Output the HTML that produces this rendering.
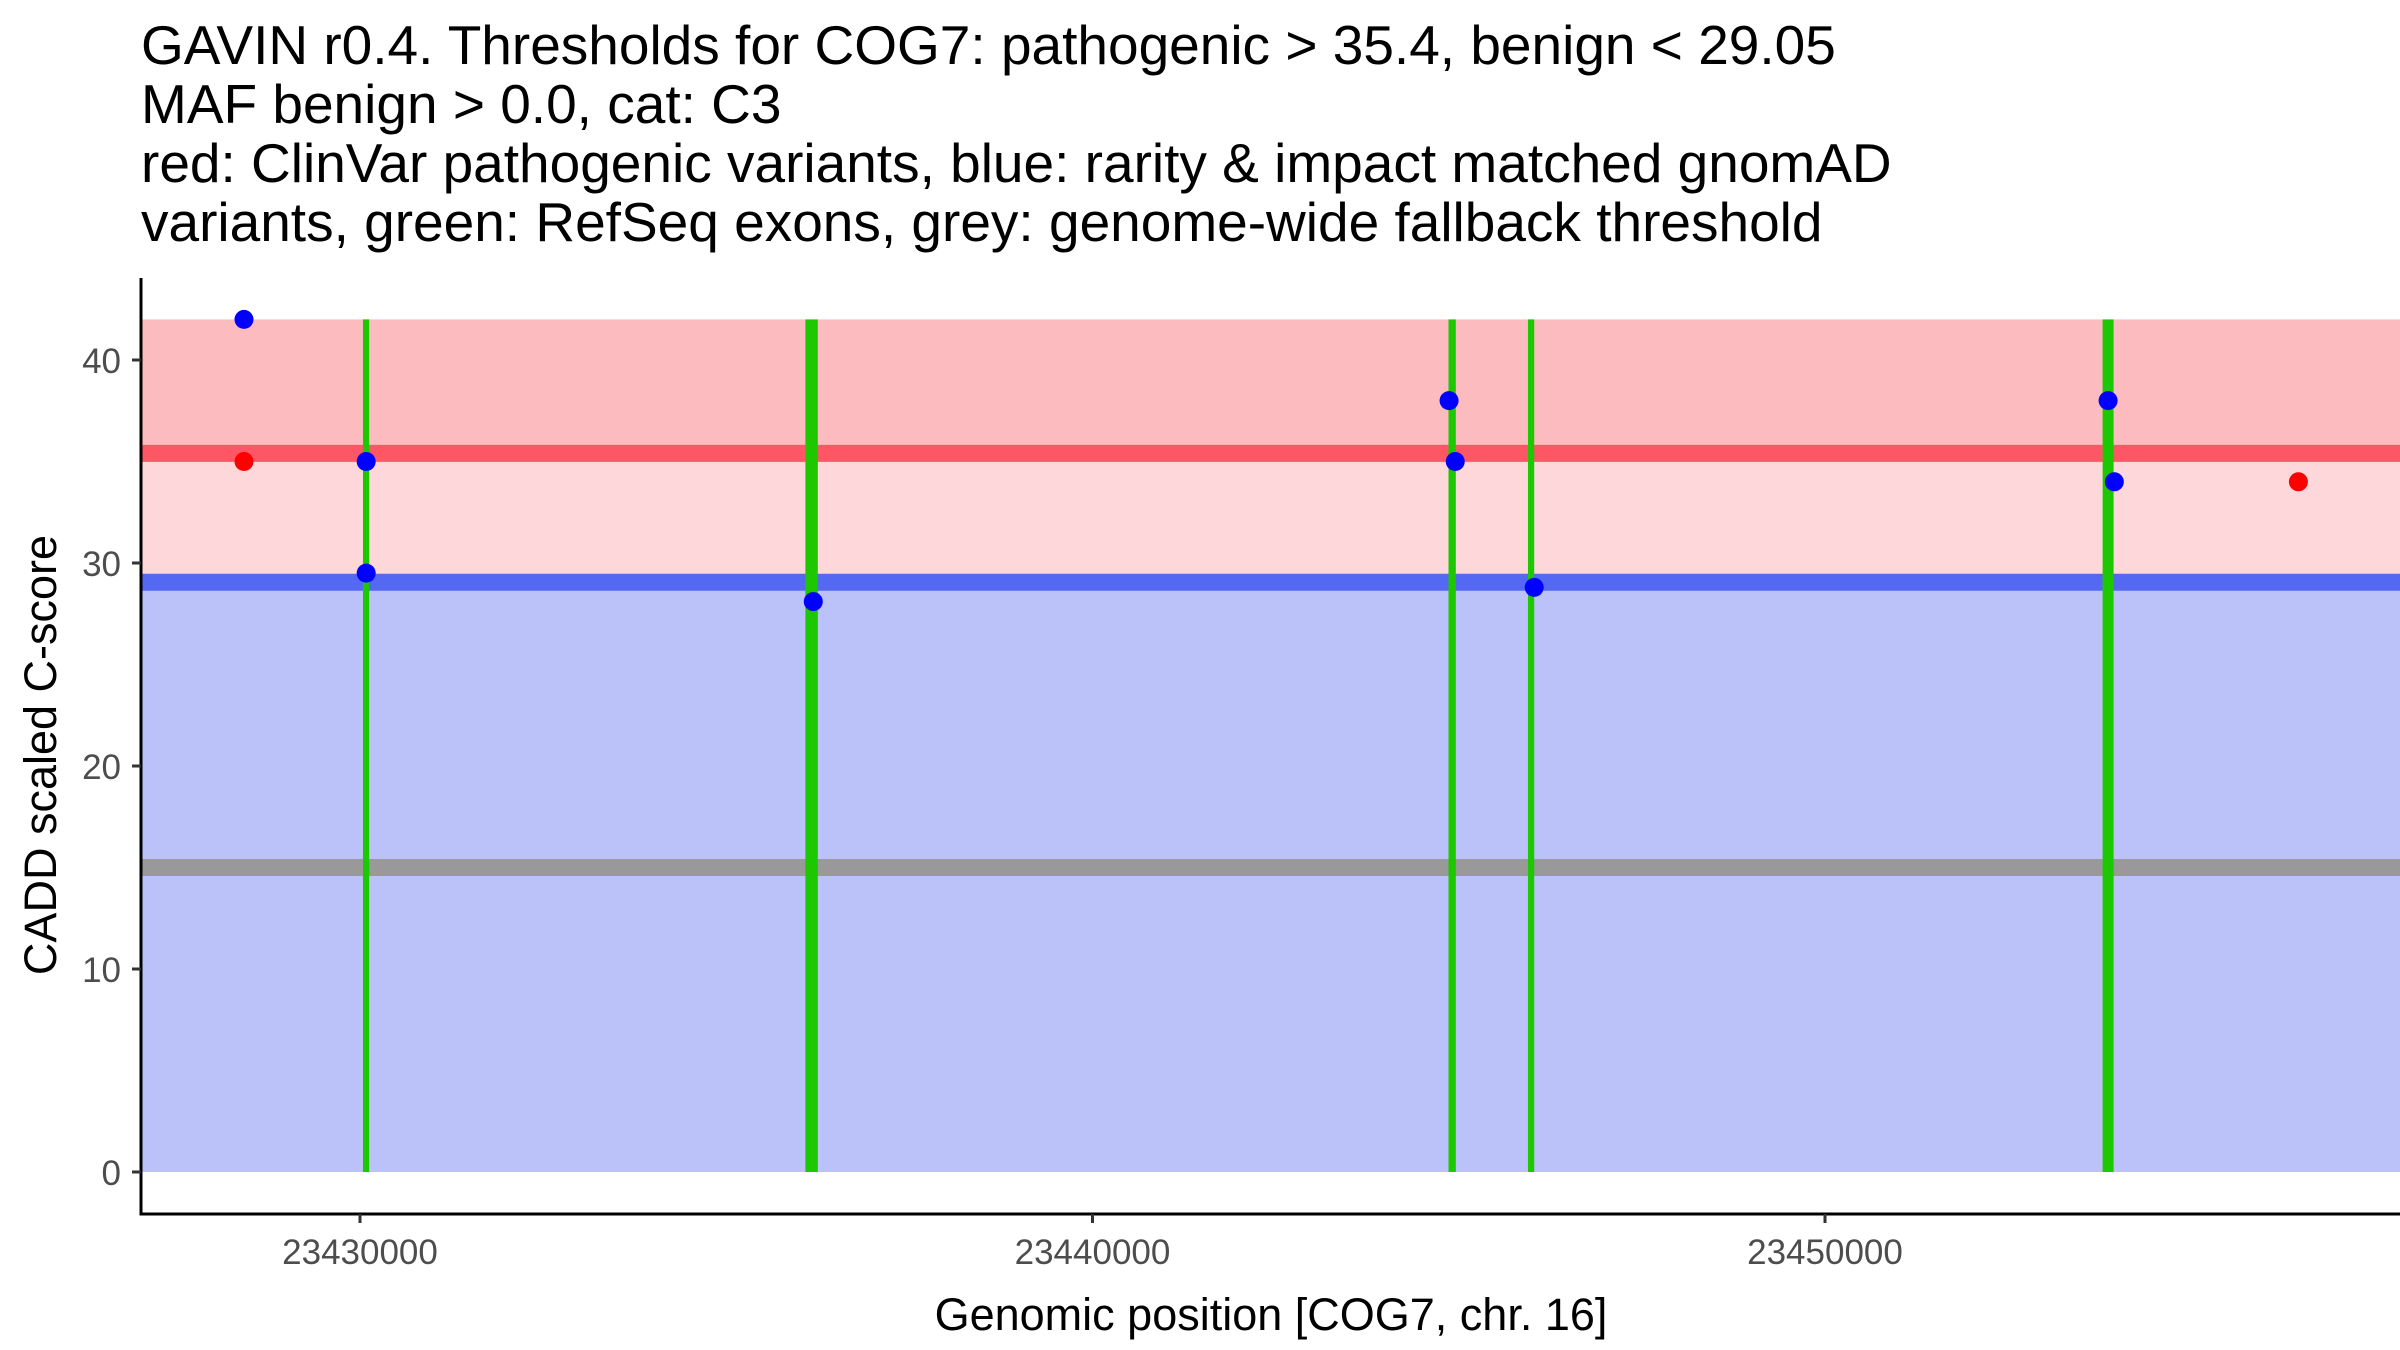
<!DOCTYPE html>
<html><head><meta charset="utf-8"><style>
html,body{margin:0;padding:0;background:#fff;}
svg{display:block;font-family:"Liberation Sans",Arial,sans-serif;}
</style></head><body>
<svg id="chart" width="2400" height="1350" viewBox="0 0 2400 1350" xmlns="http://www.w3.org/2000/svg">
<g font-size="55" fill="#000">
<text x="141" y="64">GAVIN r0.4. Thresholds for COG7: pathogenic &gt; 35.4, benign &lt; 29.05</text>
<text x="141" y="123">MAF benign &gt; 0.0, cat: C3</text>
<text x="141" y="182">red: ClinVar pathogenic variants, blue: rarity &amp; impact matched gnomAD</text>
<text x="141" y="241">variants, green: RefSeq exons, grey: genome-wide fallback threshold</text>
</g>
<g id="plot"></g>
<text x="1271" y="1330" font-size="45" text-anchor="middle" fill="#000">Genomic position [COG7, chr. 16]</text>
<text transform="translate(56,755) rotate(-90)" font-size="45" text-anchor="middle" fill="#000">CADD scaled C-score</text>
</svg>
<script>
const xTicks = [23430000, 23440000, 23450000];
const yTicks = [0, 10, 20, 30, 40];
const pathThreshold = 35.4;
const benignThreshold = 29.05;
const fallbackThreshold = 15;
const bandTop = 42;
const exonStarts = [23430040, 23436080, 23444860, 23445945, 23453790];
const exonEnds = [23430125, 23436250, 23444960, 23446030, 23453940];
const benignX = [23428416, 23430084, 23430084, 23436188, 23444868, 23444952, 23446030, 23453865, 23453950];
const benignY = [42, 35, 29.5, 28.1, 38, 35, 28.8, 38, 34];
const pathX = [23428416, 23456463];
const pathY = [35, 34];

const L = 141, R = 2400, T = 278, B = 1214;
const x0 = 23427010, x1 = 23457850, y0 = -2.07, y1 = 44.04;
const sx = v => L + (v - x0) / (x1 - x0) * (R - L);
const sy = v => B - (v - y0) / (y1 - y0) * (B - T);
const NS = "http://www.w3.org/2000/svg";
const g = document.getElementById('plot');
function mk(tag, attrs) { const e = document.createElementNS(NS, tag); for (const k in attrs) e.setAttribute(k, attrs[k]); g.appendChild(e); return e; }
let e;
e = mk('rect', {x: L, y: sy(bandTop), width: R - L, height: sy(pathThreshold) - sy(bandTop), fill: '#fcbbbf'});


e = mk('rect', {x: L, y: sy(pathThreshold), width: R - L, height: sy(benignThreshold) - sy(pathThreshold), fill: '#fed7db'});


e = mk('rect', {x: L, y: sy(benignThreshold), width: R - L, height: sy(0) - sy(benignThreshold), fill: '#bbc2fa'});


e = mk('line', {x1: L, x2: R, y1: sy(pathThreshold), y2: sy(pathThreshold), stroke: '#fd5766', 'stroke-width': 17});


e = mk('line', {x1: L, x2: R, y1: sy(benignThreshold), y2: sy(benignThreshold), stroke: '#5468f2', 'stroke-width': 17});


e = mk('line', {x1: L, x2: R, y1: sy(fallbackThreshold), y2: sy(fallbackThreshold), stroke: '#999999', 'stroke-width': 17});


for (let i = 0; i < exonStarts.length; i++) {
  const a = sx(exonStarts[i]), b = sx(exonEnds[i]);
  e = mk('rect', {x: a, y: sy(bandTop), width: Math.max(b - a, 5), height: sy(0) - sy(bandTop), fill: '#1ec800'});
  
  
}
for (let i = 0; i < benignX.length; i++) {
  e = mk('circle', {cx: sx(benignX[i]), cy: sy(benignY[i]), r: 9.5, fill: '#0000ff'});
  
  
}
for (let i = 0; i < pathX.length; i++) {
  e = mk('circle', {cx: sx(pathX[i]), cy: sy(pathY[i]), r: 9.5, fill: '#ff0000'});
  
  
}
e = mk('line', {x1: L, x2: L, y1: T, y2: B + 1.5, stroke: '#000', 'stroke-width': 3});


e = mk('line', {x1: L - 1.5, x2: R, y1: B, y2: B, stroke: '#000', 'stroke-width': 3});


for (const t of yTicks) {
  e = mk('line', {x1: L - 9, x2: L, y1: sy(t), y2: sy(t), stroke: '#333', 'stroke-width': 3});
  
  
  e = mk('text', {x: L - 20, y: sy(t) + 13, 'font-size': 35, fill: '#4d4d4d', 'text-anchor': 'end'});
  e.textContent = t;
  
  
}
for (const t of xTicks) {
  e = mk('line', {x1: sx(t), x2: sx(t), y1: B, y2: B + 9, stroke: '#333', 'stroke-width': 3});
  
  
  e = mk('text', {x: sx(t), y: B + 50, 'font-size': 35, fill: '#4d4d4d', 'text-anchor': 'middle'});
  e.textContent = t;
  
  
}
</script>
</body></html>
